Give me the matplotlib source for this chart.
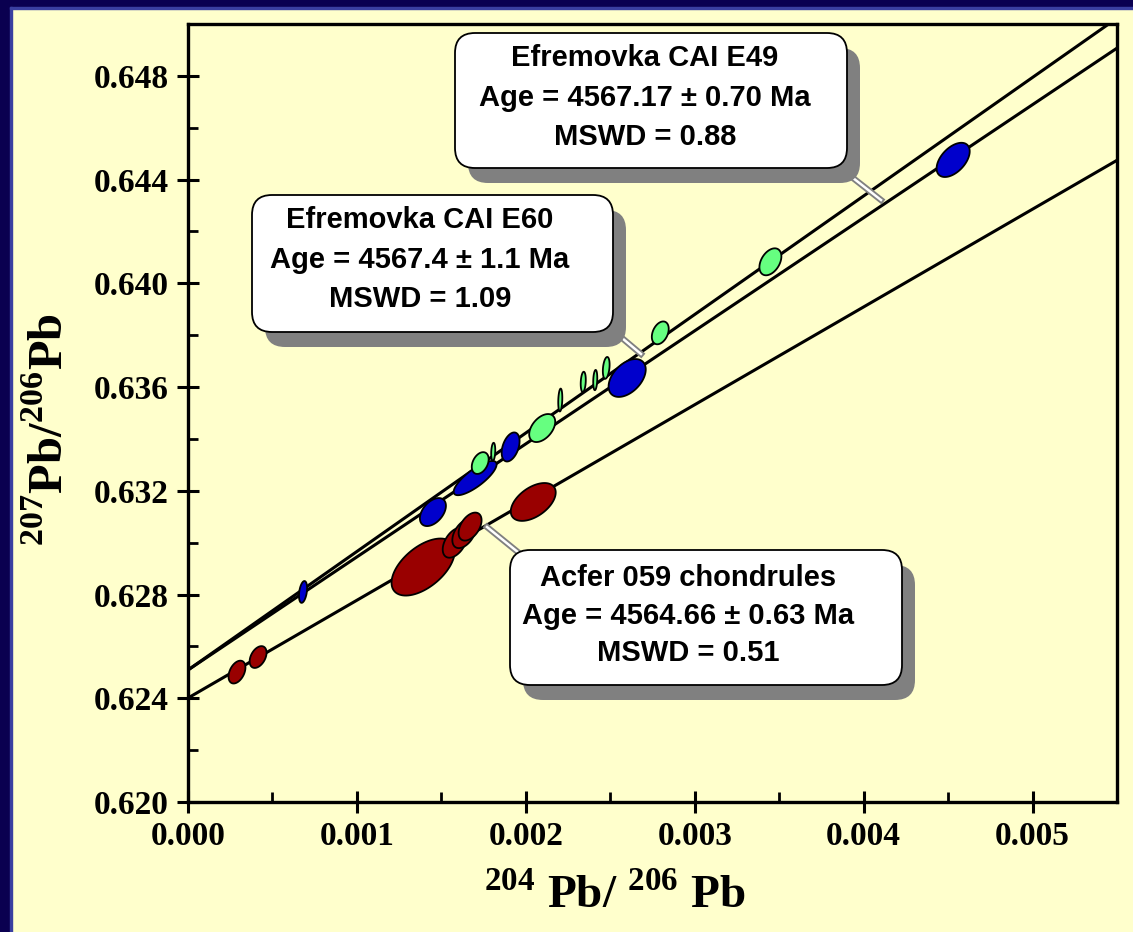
import numpy as np
import matplotlib.pyplot as plt
from matplotlib.patches import Polygon, FancyBboxPatch, Rectangle
from matplotlib.lines import Line2D
from matplotlib.ticker import MultipleLocator, FormatStrFormatter

W, H, DPI = 1133, 932, 100

plt.rcParams['font.family'] = ['Liberation Serif', 'DejaVu Serif']
plt.rcParams['mathtext.fontset'] = 'custom'
plt.rcParams['mathtext.rm'] = 'Liberation Serif:bold'
plt.rcParams['mathtext.bf'] = 'Liberation Serif:bold'

# regression lines: intercept, slope  (E60, E49, Acfer 059)
line_b = [0.62509, 0.62509, 0.62401]
line_m = [4.57, 4.36, 3.77]

# Efremovka CAI E49 (blue)
e49_x = [0.000681, 0.00145, 0.00170, 0.00191, 0.00260, 0.00453]
e49_y = [0.62810, 0.63118, 0.63249, 0.63369, 0.63635, 0.64476]
e49_sx = [0.000024, 0.000077, 0.000127, 0.000053, 0.000110, 0.000098]
e49_sy = [0.00042, 0.00054, 0.00066, 0.00056, 0.00073, 0.00066]
e49_rho = [0.35, 0.45, 0.8, 0.4, 0.45, 0.5]

# Efremovka CAI E60 (green)
e60_x = [0.00173, 0.001807, 0.002097, 0.002204, 0.00234, 0.002411, 0.002476, 0.002796, 0.003448]
e60_y = [0.63307, 0.63350, 0.63442, 0.63550, 0.63620, 0.63627, 0.63674, 0.63809, 0.64083]
e60_sx = [0.00005, 0.000012, 0.000077, 0.000012, 0.000015, 0.000012, 0.00002, 0.00005, 0.000065]
e60_sy = [0.00042, 0.00035, 0.00054, 0.00044, 0.00039, 0.00039, 0.00042, 0.00044, 0.00052]
e60_rho = [0.35, 0.2, 0.45, 0.2, 0.2, 0.2, 0.3, 0.35, 0.4]

# Acfer 059 chondrules (red)
acf_x = [0.00029, 0.000415, 0.001392, 0.00158, 0.001635, 0.00167, 0.002044]
acf_y = [0.62501, 0.62559, 0.62906, 0.63000, 0.63035, 0.63062, 0.63157]
acf_sx = [0.00005, 0.00005, 0.000187, 0.000072, 0.000070, 0.000068, 0.000133]
acf_sy = [0.00044, 0.00042, 0.00110, 0.00058, 0.00056, 0.00054, 0.00073]
acf_rho = [0.4, 0.4, 0.55, 0.45, 0.45, 0.45, 0.5]

labels = [
    ["Efremovka CAI E49", "Age = 4567.17 \u00b1 0.70 Ma", "MSWD = 0.88"],
    ["Efremovka CAI E60", "Age = 4567.4 \u00b1 1.1 Ma", "MSWD = 1.09"],
    ["Acfer 059 chondrules", "Age = 4564.66 \u00b1 0.63 Ma", "MSWD = 0.51"],
]


def ellipse_xy(cx, cy, sx, sy, rho, n=90):
    t = np.linspace(0, 2 * np.pi, n)
    x = cx + sx * np.cos(t)
    y = cy + sy * (rho * np.cos(t) + np.sqrt(1 - rho ** 2) * np.sin(t))
    return np.column_stack([x, y])


def px(x, y):
    # pixel position (from top-left) -> inches for fig.dpi_scale_trans
    return x / DPI, (H - y) / DPI


fig = plt.figure(figsize=(W / DPI, H / DPI), dpi=DPI)
fig.patch.set_facecolor('#FFFFCC')
tr = fig.dpi_scale_trans

# dark blue slide border (left and top)
fig.add_artist(Rectangle((0, 0), 10 / DPI, H / DPI, transform=tr, color='#0A0050', zorder=0))
fig.add_artist(Rectangle((0, (H - 7) / DPI), W / DPI, 7 / DPI, transform=tr, color='#0A0050', zorder=0))
fig.add_artist(Rectangle((10 / DPI, 0), 2 / DPI, (H - 7) / DPI, transform=tr, color='#3A3FA0', zorder=0))
fig.add_artist(Rectangle((10 / DPI, (H - 9) / DPI), W / DPI, 2 / DPI, transform=tr, color='#3A3FA0', zorder=0))

ax = fig.add_axes([188 / W, 1 - 802 / H, 929 / W, 778 / H])
ax.set_facecolor('#FFFFCC')
ax.set_xlim(0, 0.0055)
ax.set_ylim(0.620, 0.650)

for b, m in zip(line_b, line_m):
    ax.axline((0, b), slope=m, color='black', lw=2.2, zorder=2)

groups = [
    (acf_x, acf_y, acf_sx, acf_sy, acf_rho, '#990000'),
    (e49_x, e49_y, e49_sx, e49_sy, e49_rho, '#0000CC'),
    (e60_x, e60_y, e60_sx, e60_sy, e60_rho, '#66FF80'),
]
for xs, ys, sxs, sys_, rhos, col in groups:
    for cx, cy, sx, sy, r in zip(xs, ys, sxs, sys_, rhos):
        ax.add_patch(Polygon(ellipse_xy(cx, cy, sx, sy, r), closed=True,
                             facecolor=col, edgecolor='black', lw=1.3, zorder=3))

ax.xaxis.set_major_locator(MultipleLocator(0.001))
ax.xaxis.set_minor_locator(MultipleLocator(0.0005))
ax.yaxis.set_major_locator(MultipleLocator(0.004))
ax.yaxis.set_minor_locator(MultipleLocator(0.002))
ax.xaxis.set_major_formatter(FormatStrFormatter('%.3f'))
ax.yaxis.set_major_formatter(FormatStrFormatter('%.3f'))
ax.tick_params(which='major', direction='inout', length=16, width=2.2,
               labelsize=24, pad=6)
ax.tick_params(which='minor', direction='in', length=7, width=2)
for lab in ax.get_xticklabels() + ax.get_yticklabels():
    lab.set_fontweight('bold')
for s in ax.spines.values():
    s.set_linewidth(2.4)

# axis titles
fig.text(*px(615, 908), r'$^{204}$ Pb/ $^{206}$ Pb', transform=tr, fontsize=34,
         fontweight='bold', ha='center', va='baseline')
fig.text(*px(50, 430), r'$^{207}$Pb/$^{206}$Pb', transform=tr, fontsize=35,
         fontweight='bold', ha='center', va='center', rotation=90)

# callout boxes: (left, top, right, bottom) in pixels, text centre x, leader
boxes = [(455, 33, 847, 168), (252, 195, 613, 332), (510, 550, 902, 685)]
text_cx = [645, 420, 688]
text_y = [[58, 98, 137], [220, 260, 299], [578, 616, 653]]
leaders = [((853, 178), (881, 200)), ((622, 338), (641, 354)), ((487, 527), (519, 553))]
sh = (13, 15)

for (l, t, r, bt), cx, ty, (p0, p1), lab in zip(boxes, text_cx, text_y, leaders, labels):
    xs = [p0[0] / DPI, p1[0] / DPI]
    ys = [(H - p0[1]) / DPI, (H - p1[1]) / DPI]
    fig.add_artist(Line2D(xs, ys, transform=tr, color='#808080', lw=4.5, zorder=5))
    fig.add_artist(Line2D(xs, ys, transform=tr, color='white', lw=1.8, zorder=5))
    x0, y0 = px(l + sh[0], bt + sh[1])
    fig.add_artist(FancyBboxPatch((x0, y0), (r - l) / DPI, (bt - t) / DPI,
                                  boxstyle='round,pad=0,rounding_size=0.2',
                                  transform=tr, facecolor='#808080',
                                  edgecolor='none', zorder=6))
    x0, y0 = px(l, bt)
    fig.add_artist(FancyBboxPatch((x0, y0), (r - l) / DPI, (bt - t) / DPI,
                                  boxstyle='round,pad=0,rounding_size=0.2',
                                  transform=tr, facecolor='white',
                                  edgecolor='black', lw=1.3, zorder=7))
    for yy, s in zip(ty, lab):
        fig.text(*px(cx, yy), s, transform=tr, fontsize=21, fontweight='bold',
                 family=['Liberation Sans', 'DejaVu Sans'],
                 ha='center', va='center', zorder=8)

fig.savefig('out.png', dpi=DPI, facecolor=fig.get_facecolor())
